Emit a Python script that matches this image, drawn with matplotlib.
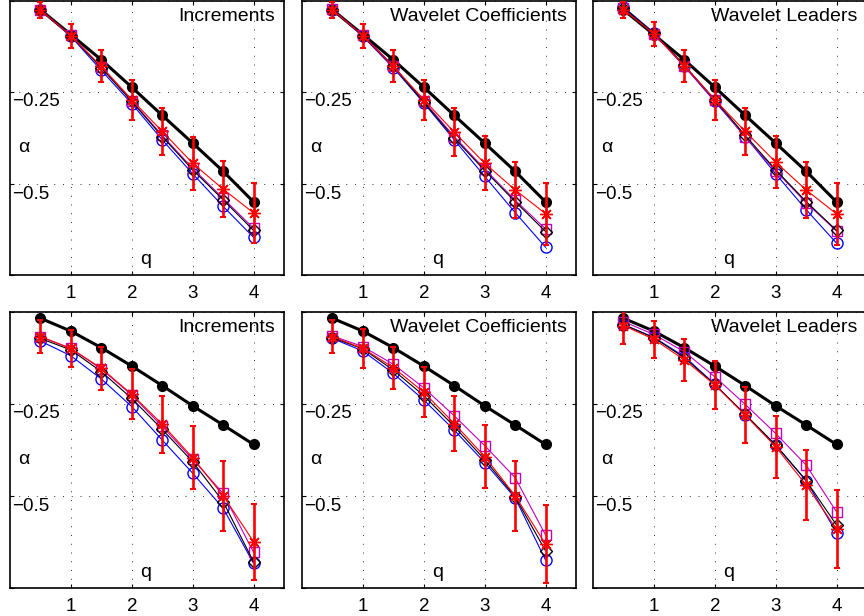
import numpy as np
import matplotlib
matplotlib.use('Agg')
import matplotlib.pyplot as plt

plt.rcParams['font.family'] = ['Liberation Sans', 'DejaVu Sans']

q = [0.5, 1, 1.5, 2, 2.5, 3, 3.5, 4]
titles = ['Increments', 'Wavelet Coefficients', 'Wavelet Leaders']

# theoretical curves (black, filled) for each row
theory_top = [-0.024, -0.092, -0.161, -0.236, -0.313, -0.389, -0.466, -0.550]
theory_bot = [-0.017, -0.052, -0.097, -0.147, -0.200, -0.255, -0.307, -0.360]

# top row
blue_top_inc = [-0.025, -0.097, -0.190, -0.281, -0.380, -0.473, -0.562, -0.647]
diam_top_inc = [-0.025, -0.095, -0.183, -0.275, -0.371, -0.462, -0.544, -0.628]
mag_top_inc = [-0.024, -0.094, -0.181, -0.273, -0.368, -0.458, -0.540, -0.622]
red_top_inc = [-0.025, -0.095, -0.179, -0.270, -0.357, -0.444, -0.515, -0.580]
err_top_inc = [0.022, 0.033, 0.044, 0.055, 0.064, 0.072, 0.077, 0.082]

blue_top_wc = [-0.024, -0.097, -0.183, -0.279, -0.380, -0.480, -0.579, -0.674]
diam_top_wc = [-0.024, -0.095, -0.179, -0.277, -0.375, -0.464, -0.549, -0.631]
mag_top_wc = [-0.023, -0.094, -0.177, -0.274, -0.371, -0.460, -0.545, -0.624]
red_top_wc = [-0.024, -0.095, -0.179, -0.270, -0.359, -0.444, -0.517, -0.582]
err_top_wc = [0.022, 0.033, 0.044, 0.055, 0.066, 0.074, 0.077, 0.085]

blue_top_wl = [-0.016, -0.087, -0.179, -0.275, -0.371, -0.473, -0.571, -0.663]
diam_top_wl = [-0.018, -0.088, -0.176, -0.270, -0.368, -0.462, -0.549, -0.628]
mag_top_wl = [-0.018, -0.090, -0.179, -0.272, -0.373, -0.465, -0.552, -0.630]
red_top_wl = [-0.024, -0.090, -0.177, -0.270, -0.357, -0.441, -0.517, -0.583]
err_top_wl = [0.022, 0.033, 0.044, 0.055, 0.064, 0.072, 0.077, 0.085]

# bottom row
blue_bot_inc = [-0.079, -0.119, -0.182, -0.257, -0.348, -0.438, -0.533, -0.683]
diam_bot_inc = [-0.072, -0.103, -0.162, -0.235, -0.319, -0.407, -0.515, -0.679]
mag_bot_inc = [-0.067, -0.099, -0.155, -0.226, -0.311, -0.400, -0.493, -0.653]
red_bot_inc = [-0.067, -0.099, -0.153, -0.224, -0.305, -0.396, -0.499, -0.624]
err_bot_inc = [0.045, 0.051, 0.059, 0.068, 0.077, 0.085, 0.095, 0.103]

blue_bot_wc = [-0.072, -0.106, -0.167, -0.239, -0.321, -0.409, -0.505, -0.674]
diam_bot_wc = [-0.070, -0.100, -0.158, -0.227, -0.311, -0.401, -0.502, -0.649]
mag_bot_wc = [-0.065, -0.094, -0.142, -0.206, -0.282, -0.363, -0.450, -0.606]
red_bot_wc = [-0.067, -0.099, -0.151, -0.218, -0.303, -0.393, -0.499, -0.631]
err_bot_wc = [0.045, 0.052, 0.057, 0.068, 0.076, 0.086, 0.095, 0.106]

blue_bot_wl = [-0.034, -0.069, -0.121, -0.196, -0.280, -0.362, -0.458, -0.600]
diam_bot_wl = [-0.034, -0.070, -0.124, -0.197, -0.278, -0.361, -0.458, -0.579]
mag_bot_wl = [-0.026, -0.061, -0.108, -0.176, -0.251, -0.330, -0.416, -0.543]
red_bot_wl = [-0.037, -0.074, -0.130, -0.198, -0.280, -0.366, -0.470, -0.590]
err_bot_wl = [0.051, 0.050, 0.057, 0.065, 0.075, 0.084, 0.094, 0.106]

panels = [
    [(theory_top, blue_top_inc, diam_top_inc, mag_top_inc, red_top_inc, err_top_inc),
     (theory_top, blue_top_wc, diam_top_wc, mag_top_wc, red_top_wc, err_top_wc),
     (theory_top, blue_top_wl, diam_top_wl, mag_top_wl, red_top_wl, err_top_wl)],
    [(theory_bot, blue_bot_inc, diam_bot_inc, mag_bot_inc, red_bot_inc, err_bot_inc),
     (theory_bot, blue_bot_wc, diam_bot_wc, mag_bot_wc, red_bot_wc, err_bot_wc),
     (theory_bot, blue_bot_wl, diam_bot_wl, mag_bot_wl, red_bot_wl, err_bot_wl)],
]

W, H = 864, 616
fig = plt.figure(figsize=(W / 100, H / 100), dpi=100)

lefts = [10, 302, 593]
tops = [1, 312]
heights = [274, 276]
width = 274

asterisk = (8, 2, 0)

for r in range(2):
    for c in range(3):
        ax = fig.add_axes([lefts[c] / W, (H - tops[r] - heights[r]) / H, width / W, heights[r] / H])
        theo, blue, diam, mag, red, err = panels[r][c]

        ax.plot(q, theo, '-o', color='k', lw=2.2, ms=7, mfc='k', mec='k', zorder=3)
        ax.plot(q, blue, '-o', color='b', lw=0.8, ms=8, mfc='none', mec='b', zorder=4)
        ax.plot(q, mag, '-s', color='m', lw=0.8, ms=6.5, mfc='none', mec='m', zorder=5)
        ax.plot(q, diam, '-D', color='k', lw=0.8, ms=6.5, mfc='none', mec='k', zorder=6)
        ax.errorbar(q, red, yerr=err, fmt='none', ecolor='r', elinewidth=1.9,
                    capsize=2.5, capthick=1.5, zorder=7)
        ax.plot(q, red, '-', color='r', lw=0.8, marker=asterisk, ms=9, mec='r', mew=1.0, zorder=8)

        ax.set_xlim(0, 4.5)
        ax.set_ylim(-0.75, 0)
        ax.set_xticks([1, 2, 3, 4])
        ax.set_yticks([-0.75, -0.5, -0.25, 0])
        ax.set_yticklabels([])
        ax.tick_params(direction='in', length=3, width=0.8, top=True, right=True,
                       labelsize=13.5, pad=7)
        ax.grid(True, color='#333333', lw=0.7, linestyle=(0, (1, 8)))
        for s in ax.spines.values():
            s.set_linewidth(1.2)

        ax.text(4.35, -0.055, titles[c], ha='right', va='baseline', fontsize=14, zorder=10)
        ax.text(0.03, -0.253, '\u22120.25', ha='left', va='top', fontsize=13.5)
        ax.text(0.03, -0.506, '\u22120.5', ha='left', va='top', fontsize=13.5)
        ax.text(0.23, -0.413, '\u03b1', ha='center', va='baseline', fontsize=14)
        ax.text(2.23, -0.72, 'q', ha='center', va='baseline', fontsize=14)

fig.savefig('out.png', dpi=100)
